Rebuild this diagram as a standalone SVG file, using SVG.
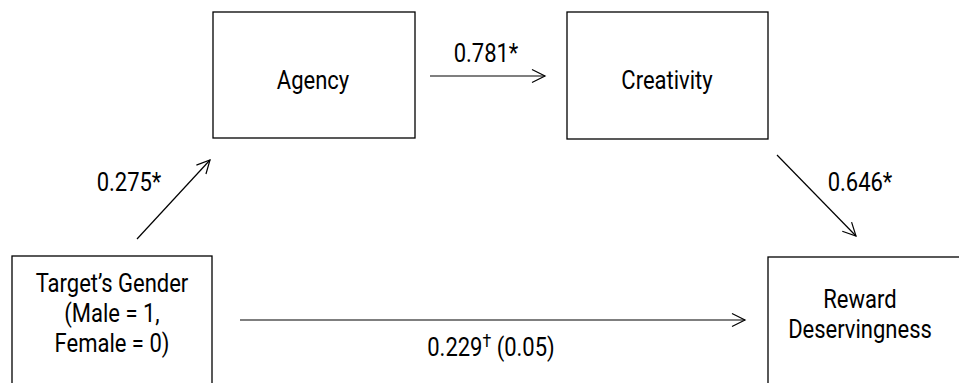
<svg xmlns="http://www.w3.org/2000/svg" width="959" height="383" viewBox="0 0 959 383">
  <style>
    .box { fill: #fff; stroke: #000; stroke-width: 1.3; }
    .lbl { font-family: Roboto, "Liberation Sans", sans-serif; font-size: 25px; fill: #000; text-anchor: middle;
           transform-box: fill-box; transform-origin: center; transform: scaleX(0.88); }
    .edge { stroke: #000; stroke-width: 1.2; fill: none; marker-end: url(#arrow); }
  </style>
  <defs>
    <marker id="arrow" viewBox="0 0 16 16" refX="14" refY="8" markerWidth="16" markerHeight="16" markerUnits="userSpaceOnUse" orient="auto">
      <path d="M1,1.5 L14,8 L1,14.5" fill="none" stroke="#000" stroke-width="1.2"/>
    </marker>
  </defs>
  <rect width="959" height="383" fill="#fff"/>

  <g id="gender">
    <rect class="box" x="12" y="256" width="200" height="140"/>
    <text class="lbl" x="112" y="292">Target’s Gender</text>
    <text class="lbl" x="112" y="322">(Male = 1,</text>
    <text class="lbl" x="112" y="352">Female = 0)</text>
  </g>
  <g id="agency">
    <rect class="box" x="213" y="12" width="202" height="126"/>
    <text class="lbl" x="313" y="89">Agency</text>
  </g>
  <g id="creativity">
    <rect class="box" x="567" y="12" width="201" height="127"/>
    <text class="lbl" x="667" y="89">Creativity</text>
  </g>
  <g id="reward">
    <rect class="box" x="768" y="257" width="210" height="140"/>
    <text class="lbl" x="860" y="308">Reward</text>
    <text class="lbl" x="860" y="338">Deservingness</text>
  </g>

  <g id="connectors">
    <line class="edge" x1="430" y1="76" x2="545" y2="76"/>
    <line class="edge" x1="137" y1="239" x2="210" y2="160"/>
    <line class="edge" x1="777" y1="155" x2="856" y2="236"/>
    <line class="edge" x1="240" y1="320" x2="745" y2="320"/>
    <text class="lbl" x="486" y="62">0.781*</text>
    <text class="lbl" x="129" y="191">0.275*</text>
    <text class="lbl" x="860" y="191">0.646*</text>
    <text class="lbl" x="491" y="356">0.229<tspan font-size="18" dy="-9">†</tspan><tspan dy="9"> (0.05)</tspan></text>
  </g>
</svg>
